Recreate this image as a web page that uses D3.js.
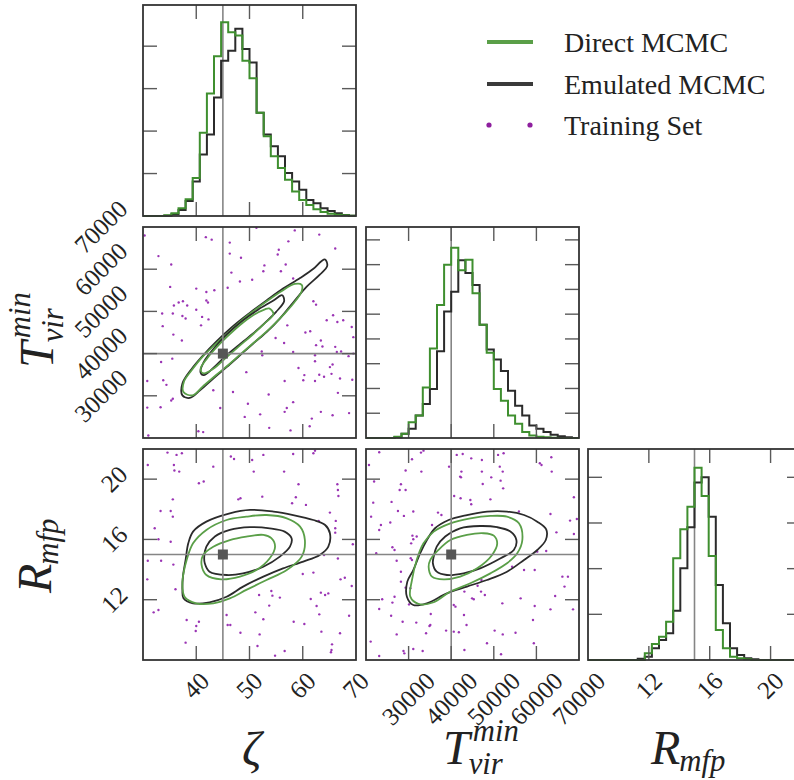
<!DOCTYPE html>
<html>
<head>
<meta charset="utf-8">
<script src="https://cdn.jsdelivr.net/npm/d3@7"></script>
<style>
body { margin: 0; background: #fff; }
</style>
</head>
<body>
<script>
var width = 794,
    height = 780;

// ================ data ================
var paramNames = ["zeta", "tvir", "rmfp"];
var truthValues = [45, 40000, 15];
var paramRanges = [[30, 70], [20000, 70000], [8, 22]];
var tickValues = [[40, 50, 60, 70], [30000, 40000, 50000, 60000, 70000], [12, 16, 20]];

// histogram counts, 30 equal bins across each range
var zetaDirect   = [0, 0, 0, 16, 63, 182, 395, 893, 1959, 2884, 3760, 4566, 4329, 4250, 3658, 3247, 2433, 1880, 1406, 1130, 853, 577, 379, 261, 158, 95, 55, 32, 16, 8];
var zetaEmulated = [0, 0, 0, 8, 40, 142, 356, 814, 1446, 1920, 2789, 3658, 3895, 4408, 3934, 3618, 2433, 1920, 1643, 1406, 1011, 814, 616, 379, 300, 182, 119, 63, 24, 8];
var tvirDirect   = [0, 0, 0, 0, 27, 87, 320, 453, 1020, 1807, 2687, 3500, 3840, 3387, 3600, 2920, 2287, 1720, 987, 753, 453, 287, 120, 53, 27, 13, 7, 0, 0, 0];
var tvirEmulated = [0, 0, 0, 0, 13, 87, 187, 453, 687, 987, 1753, 2553, 2953, 3587, 3333, 3087, 2287, 1787, 1587, 1353, 953, 653, 453, 253, 187, 120, 67, 33, 13, 0];
var rmfpDirect   = [0, 0, 0, 0, 0, 0, 0, 0, 146, 350, 511, 840, 2227, 2862, 3358, 4212, 3592, 2278, 657, 256, 73, 37, 15, 0, 0, 0, 0, 0, 0, 0];
var rmfpEmulated = [0, 0, 0, 0, 0, 0, 0, 29, 73, 256, 438, 584, 1080, 2008, 2905, 3884, 4000, 3139, 1643, 803, 256, 110, 37, 15, 0, 0, 0, 0, 0, 0];
var histMax = [4970, 4260, 4620];
var histTicks = [[1000, 2000, 3000, 4000], [500, 1000, 1500, 2000, 2500, 3000, 3500, 4000], [1000, 2000, 3000, 4000]];

// 1 and 2 sigma contours, [x, y] in data units
var ztEmuOuter = [[64.2,62300],[64.6,60800],[63.2,58700],[60.7,55800],[58.2,52100],[55.7,48300],[53.2,45100],[50.7,42400],[48.2,39600],[45.7,36800],[43.2,34100],[40.7,31300],[38.8,29500],[37.4,30100],[37.4,32900],[39.1,36300],[41.3,39600],[43.8,42900],[46.9,46500],[50.1,49700],[53.2,52600],[56.3,55400],[59.5,57900],[62.0,60100],[63.5,61900]];
var ztDirOuter = [[59.8,56300],[59.8,54800],[58.2,51800],[56.3,49100],[53.8,45900],[51.3,43100],[48.8,40400],[46.3,37600],[43.8,35000],[41.3,32300],[39.3,30100],[37.6,30900],[37.7,33400],[39.1,36000],[41.0,39000],[43.5,42100],[46.6,45700],[49.7,49100],[52.9,52100],[56.0,54800],[58.5,56500]];
var ztEmuInner = [[56.2,53800],[56.5,52400],[55.0,49900],[52.9,47300],[50.5,44600],[48.1,42100],[45.5,39400],[43.2,36600],[41.4,34900],[40.8,35600],[41.4,38000],[43.3,41200],[45.8,44600],[48.7,47800],[51.6,50400],[54.5,52600],[55.9,53800]];
var ztDirInner = [[53.7,50700],[54.5,49400],[52.7,47000],[50.4,44300],[47.9,41600],[45.4,38800],[43.2,36400],[41.4,35300],[40.8,36300],[42.0,38800],[44.5,42400],[47.4,45900],[50.2,48700],[52.9,50500]];

var zrEmuOuter = [[37.4,12.65],[37.6,12.09],[39.4,11.76],[42.5,11.83],[45.7,12.20],[48.8,12.87],[52.6,13.53],[56.3,14.08],[60.1,14.53],[63.2,14.97],[64.8,15.52],[65.1,16.41],[64.2,16.96],[62.0,17.29],[58.2,17.62],[54.5,17.85],[50.1,17.96],[46.3,17.73],[41.9,17.18],[39.4,16.52],[38.5,15.74],[38.0,14.64],[37.5,13.53]];
var zrDirOuter = [[37.4,13.09],[37.8,12.20],[40.0,11.76],[43.2,11.76],[46.3,12.09],[49.4,12.65],[53.2,13.31],[57.0,13.97],[59.8,14.86],[60.4,15.96],[59.5,16.85],[57.0,17.40],[53.2,17.62],[49.4,17.51],[45.7,17.29],[41.9,16.63],[39.4,15.74],[38.2,14.64],[37.6,13.75]];
var zrEmuInner = [[41.6,14.42],[42.5,13.86],[45.7,13.64],[48.8,13.75],[52.6,14.19],[55.7,14.86],[57.6,15.52],[57.9,16.08],[56.6,16.52],[53.8,16.74],[50.1,16.81],[46.3,16.63],[43.5,16.19],[41.9,15.52],[41.5,14.86]];
var zrDirInner = [[41.0,14.31],[41.9,13.64],[44.7,13.35],[48.2,13.53],[51.3,13.97],[53.8,14.75],[54.8,15.52],[54.1,16.08],[52.6,16.30],[49.4,16.19],[46.3,15.96],[43.2,15.52],[41.3,14.97]];

var trEmuOuter = [[29700,13.20],[29600,12.20],[31100,11.65],[34300,11.76],[39000,12.42],[43700,12.87],[48400,13.31],[53100,13.86],[57100,14.64],[60200,15.30],[62200,15.96],[62300,16.67],[60200,17.18],[57100,17.62],[53100,17.85],[48400,17.85],[43700,17.62],[39400,17.29],[36200,16.74],[34300,15.96],[32700,15.08],[31100,13.97]];
var trDirOuter = [[30400,12.20],[32300,11.72],[35900,11.83],[39800,12.54],[44500,13.09],[49200,13.75],[53100,14.42],[55500,15.08],[56700,15.96],[55900,17.07],[53100,17.51],[49200,17.56],[44500,17.40],[39800,17.07],[35900,16.52],[33500,15.74],[31900,14.64],[30800,13.31]];
var trEmuInner = [[35700,14.42],[36600,13.86],[39000,13.64],[42900,13.75],[46800,14.08],[51600,14.75],[54700,15.30],[55300,15.96],[53900,16.52],[50800,16.81],[46800,16.89],[42100,16.74],[38600,16.19],[36600,15.52],[35900,14.86]];
var trDirInner = [[34700,14.19],[35500,13.53],[38200,13.35],[42100,13.53],[46100,14.08],[49600,14.97],[50800,15.74],[50000,16.25],[47600,16.41],[43700,16.30],[39800,15.96],[37000,15.30],[35100,14.64]];

// training set, as seen in each projection
var trainZT = [[51.3,69800],[58.5,69200],[41.8,67600],[42.9,67000],[63.1,68200],[30.3,68000],[32.9,63100],[35.3,61100],[46.3,66300],[48.4,62700],[46.3,63700],[55.5,64600],[55.3,63500],[57.3,66600],[56.8,61100],[66.1,64900],[52.8,60900],[52.6,59500],[55.9,59500],[46.6,59200],[48.2,57100],[50.5,57500],[45.9,55600],[35.1,55800],[43.4,55000],[41.9,54600],[42.2,52100],[37.5,52400],[36.7,52100],[35.8,51400],[38.3,51400],[40.0,50400],[33.6,49500],[35.6,49500],[37.4,48900],[38.0,48300],[41.1,48700],[42.3,48100],[40.9,46700],[33.7,46500],[35.7,44500],[37.3,43100],[62.0,52400],[62.5,51600],[64.5,47900],[66.5,47500],[67.6,47900],[69.2,46300],[60.5,45000],[61.4,45300],[69.5,43900],[56.5,42500],[54.9,43700],[63.4,43100],[62.5,42000],[63.7,41700],[66.1,41600],[67.2,40500],[58.2,40400],[69.5,40000],[62.3,39600],[62.3,38200],[65.6,37400],[65.1,36800],[33.4,38000],[35.5,38800],[59.2,36600],[63.1,35000],[64.0,34500],[65.4,35200],[60.3,34900],[60.1,33700],[56.6,33500],[62.3,33500],[67.0,34100],[69.3,33800],[30.8,33500],[33.8,33700],[34.4,32600],[46.9,30900],[43.2,31300],[53.6,30300],[66.6,30700],[35.6,29300],[35.3,28900],[57.0,27100],[56.6,26200],[58.2,28500],[49.7,28100],[63.4,26200],[65.6,25400],[68.7,25900],[61.7,24600],[61.3,22800],[52.0,25600],[49.1,25000],[53.7,22400],[57.7,21800],[40.4,21600],[41.3,21400],[31.0,20600],[30.8,27200],[33.3,27300],[44.5,27100],[66.4,40400],[52.4,39600],[57.1,46700],[52.3,40500],[49.4,35600],[68.6,39400],[65.7,49100],[58.2,57800],[40.0,55400],[41.9,52600]];
var trainZR = [[34.6,21.76],[36.3,21.61],[37.3,21.72],[30.9,20.94],[35.8,20.94],[35.9,20.57],[36.8,20.50],[43.2,20.83],[46.5,21.50],[47.1,21.34],[50.5,21.27],[52.6,21.61],[58.2,21.67],[62.0,21.72],[62.3,21.89],[50.8,20.50],[56.5,20.50],[40.5,19.73],[41.4,19.84],[59.2,19.66],[66.5,19.66],[66.6,19.28],[66.7,18.88],[47.9,18.66],[48.3,18.73],[52.4,18.84],[58.7,18.80],[58.0,18.40],[60.6,18.29],[35.6,18.66],[33.3,17.89],[35.2,17.89],[35.6,17.51],[32.2,16.74],[32.9,16.01],[35.2,15.85],[65.1,17.78],[63.0,17.23],[66.2,17.23],[66.1,16.74],[66.1,16.45],[69.4,15.68],[30.9,14.59],[33.4,14.59],[35.7,14.33],[30.8,13.35],[36.1,12.69],[64.0,14.97],[66.6,14.73],[60.0,13.71],[62.0,13.80],[67.1,13.35],[67.9,13.46],[69.2,12.91],[54.1,12.58],[51.8,12.31],[54.3,12.27],[55.7,12.14],[63.4,12.47],[64.2,12.31],[64.8,12.42],[61.5,12.05],[62.6,11.58],[68.7,10.94],[63.1,11.03],[32.0,11.16],[32.9,11.32],[38.2,10.65],[40.5,10.54],[40.0,10.26],[39.9,9.92],[45.7,10.99],[45.9,10.32],[46.4,10.32],[48.3,9.81],[52.6,10.70],[51.1,11.16],[53.7,11.61],[58.3,10.54],[60.3,10.39],[63.5,9.88],[67.0,9.77],[38.0,9.15],[51.9,9.70],[51.5,8.93],[54.8,8.29],[56.6,8.60],[65.5,9.04],[65.4,8.66],[65.3,8.51]];
var trainTR = [[23100,21.78],[32900,21.76],[33500,21.89],[41300,21.61],[42700,21.67],[44700,21.38],[47200,21.27],[51000,21.61],[52300,21.72],[30800,21.32],[20700,20.94],[29300,20.57],[33000,20.50],[39500,20.83],[42400,20.50],[47200,20.50],[47400,19.68],[51400,20.83],[52100,20.50],[60800,21.05],[61200,20.94],[63500,21.45],[63600,20.50],[42100,20.17],[42300,20.12],[49400,20.12],[51600,19.90],[52200,19.39],[28200,19.66],[27900,19.28],[29300,19.28],[21900,19.84],[21700,18.44],[26000,18.49],[27500,17.89],[28900,17.56],[31100,17.85],[36900,17.78],[37700,17.62],[35500,16.96],[23500,16.96],[23100,16.63],[21200,17.51],[25700,17.12],[40700,18.88],[42200,18.73],[44500,18.62],[44700,18.33],[49200,18.66],[55900,17.85],[63300,17.69],[68800,18.80],[67900,17.25],[69500,17.36],[68800,16.36],[64700,16.47],[62300,15.23],[60200,15.19],[30900,16.25],[31900,16.19],[31100,16.01],[30600,15.74],[26200,15.48],[26700,15.30],[22400,15.08],[27200,14.59],[30800,14.64],[30500,14.75],[28200,13.86],[28200,13.20],[30400,12.76],[29300,12.80],[26700,12.20],[23800,12.03],[23100,11.38],[26200,11.81],[30100,11.69],[54300,14.19],[57100,13.97],[59600,13.97],[66100,13.53],[67400,13.53],[66600,12.87],[64400,12.25],[59600,11.58],[56300,12.09],[52000,11.76],[47100,13.31],[46200,12.93],[47000,12.54],[47900,12.31],[43100,12.54],[40600,11.65],[41000,11.54],[43000,10.99],[43600,10.32],[44900,12.09],[45300,12.03],[63300,11.36],[68600,11.36],[59200,10.65],[35200,11.05],[35100,10.32],[34900,10.26],[31800,10.48],[28600,10.54],[25900,10.94],[27200,9.70],[34100,9.77],[38800,9.95],[40600,9.88],[41800,9.84],[50200,9.95],[52100,9.70],[55100,9.81],[48400,9.11],[51700,8.38],[59400,9.11],[43100,8.66],[33300,8.60],[31100,8.73],[28800,8.60],[29000,8.44],[21100,9.22],[23100,8.27]];

var legendLabels = ["Direct MCMC", "Emulated MCMC", "Training Set"];

// ================ layout ================
var colX = [143, 366, 588],
    rowY = [5, 227, 449],
    pw = 213,
    ph = 211,
    tickLen = 14;

var serif = "'Liberation Serif', 'DejaVu Serif', serif";
var greenHist = "#3f8f2f",
    greenLine = "#5a9f48",
    darkLine = "#2b2b2b",
    purple = "#9a34b4";

var svg = d3.select("body")
    .append("svg")
    .attr("width", width)
    .attr("height", height)
    .style("background", "#fff");

function xScaleFor(col) {
    return d3.scaleLinear().domain(paramRanges[col]).range([colX[col], colX[col] + pw]);
}
function yScaleFor(row, dom) {
    return d3.scaleLinear().domain(dom || paramRanges[row]).range([rowY[row] + ph, rowY[row]]);
}

function inside(dom, v) {
    return v > dom[0] && v < dom[1];
}

//ticks pointing inward on all four sides
function drawTicks(g, xs, ys, xt, yt) {
    var x0 = xs.range()[0], x1 = xs.range()[1],
        y0 = ys.range()[1], y1 = ys.range()[0];
    xt.filter(function(v) { return inside(xs.domain(), v); }).forEach(function(v) {
        g.append("line").attr("x1", xs(v)).attr("x2", xs(v)).attr("y1", y0).attr("y2", y0 + tickLen);
        g.append("line").attr("x1", xs(v)).attr("x2", xs(v)).attr("y1", y1).attr("y2", y1 - tickLen);
    });
    yt.filter(function(v) { return inside(ys.domain(), v); }).forEach(function(v) {
        g.append("line").attr("x1", x0).attr("x2", x0 + tickLen).attr("y1", ys(v)).attr("y2", ys(v));
        g.append("line").attr("x1", x1).attr("x2", x1 - tickLen).attr("y1", ys(v)).attr("y2", ys(v));
    });
    g.selectAll("line").attr("stroke", "#5a5a5a").attr("stroke-width", 1.4);
}

function drawFrame(g, col, row) {
    g.append("rect")
        .attr("x", colX[col]).attr("y", rowY[row])
        .attr("width", pw).attr("height", ph)
        .attr("fill", "none")
        .attr("stroke", "#333")
        .attr("stroke-width", 1.8);
}

function truthLine(g, x1, y1, x2, y2) {
    g.append("line")
        .attr("x1", x1).attr("y1", y1).attr("x2", x2).attr("y2", y2)
        .attr("stroke", "#858585")
        .attr("stroke-width", 1.6);
}

// ================ histograms (diagonal) ================
var histData = [[zetaDirect, zetaEmulated], [tvirDirect, tvirEmulated], [rmfpDirect, rmfpEmulated]];

histData.forEach(function(pair, k) {
    var g = svg.append("g").attr("class", "hist-" + paramNames[k]);
    var xs = xScaleFor(k),
        ys = yScaleFor(k, [0, histMax[k]]);
    var lo = paramRanges[k][0],
        bw = (paramRanges[k][1] - lo) / pair[0].length;

    var step = d3.line()
        .x(function(d) { return xs(d[0]); })
        .y(function(d) { return ys(d[1]); })
        .curve(d3.curveStepAfter);

    truthLine(g, xs(truthValues[k]), rowY[k], xs(truthValues[k]), rowY[k] + ph);

    // emulated first, direct on top
    [[pair[1], darkLine], [pair[0], greenHist]].forEach(function(h) {
        var pts = h[0].map(function(c, i) { return [lo + i * bw, c]; });
        pts.push([lo + h[0].length * bw, h[0][h[0].length - 1]]);
        g.append("path")
            .attr("d", step(pts))
            .attr("fill", "none")
            .attr("stroke", h[1])
            .attr("stroke-width", 2);
    });

    drawTicks(g.append("g"), xs, ys, tickValues[k], histTicks[k]);
    drawFrame(g, k, k);
});

// ================ 2D panels ================
var panels = [
    {col: 0, row: 1, dots: trainZT, contours: [[ztEmuOuter, darkLine], [ztDirOuter, greenLine], [ztEmuInner, darkLine], [ztDirInner, greenLine]]},
    {col: 0, row: 2, dots: trainZR, contours: [[zrEmuOuter, darkLine], [zrDirOuter, greenLine], [zrEmuInner, darkLine], [zrDirInner, greenLine]]},
    {col: 1, row: 2, dots: trainTR, contours: [[trEmuOuter, darkLine], [trDirOuter, greenLine], [trEmuInner, darkLine], [trDirInner, greenLine]]}
];

panels.forEach(function(p) {
    var g = svg.append("g");
    var xs = xScaleFor(p.col),
        ys = yScaleFor(p.row);

    g.selectAll("circle.train")
        .data(p.dots)
        .enter().append("circle")
        .attr("class", "train")
        .attr("cx", function(d) { return xs(d[0]); })
        .attr("cy", function(d) { return ys(d[1]); })
        .attr("r", 1.2)
        .attr("fill", purple);

    var ring = d3.line()
        .x(function(d) { return xs(d[0]); })
        .y(function(d) { return ys(d[1]); })
        .curve(d3.curveCatmullRomClosed.alpha(0.5));

    p.contours.forEach(function(c) {
        g.append("path")
            .attr("d", ring(c[0]))
            .attr("fill", "none")
            .attr("stroke", c[1])
            .attr("stroke-width", 1.8);
    });

    var tx = xs(truthValues[p.col]),
        ty = ys(truthValues[p.row]);
    truthLine(g, tx, rowY[p.row], tx, rowY[p.row] + ph);
    truthLine(g, colX[p.col], ty, colX[p.col] + pw, ty);

    g.append("rect")
        .attr("x", tx - 5).attr("y", ty - 5)
        .attr("width", 10).attr("height", 10)
        .attr("fill", "#565656");

    drawTicks(g.append("g"), xs, ys, tickValues[p.col], tickValues[p.row]);
    drawFrame(g, p.col, p.row);
});

// ================ tick labels ================
var tickFont = 25;
var g_labels = svg.append("g").attr("font-family", serif).attr("font-size", tickFont).attr("fill", "#222");

function rotatedLabel(text, placer) {
    var t = g_labels.append("text")
        .attr("text-anchor", "middle")
        .attr("dy", "0.33em")
        .text(text);
    var ext = (t.node().getComputedTextLength() + 0.66 * tickFont) / Math.SQRT2;
    var pos = placer(ext);
    t.attr("transform", "translate(" + pos[0] + "," + pos[1] + ") rotate(-45)");
}

//bottom row
[0, 1, 2].forEach(function(col) {
    var xs = xScaleFor(col),
        base = rowY[2] + ph;
    tickValues[col].forEach(function(v) {
        rotatedLabel(v, function(ext) { return [xs(v), base + 11 + ext / 2]; });
    });
});

//left column
[1, 2].forEach(function(row) {
    var ys = yScaleFor(row);
    tickValues[row].forEach(function(v) {
        rotatedLabel(v, function(ext) { return [colX[0] - 14 - ext / 2, ys(v)]; });
    });
});

// ================ axis titles ================
function mathLabel(x, y, rot, base, sup, sub, size, subDy) {
    var g = svg.append("g")
        .attr("transform", "translate(" + x + "," + y + ") rotate(" + rot + ")")
        .attr("font-family", serif)
        .attr("font-style", "italic")
        .attr("fill", "#222");
    var t = g.append("text").attr("font-size", size).text(base);
    var w = t.node().getComputedTextLength();
    if (sup) {
        g.append("text").attr("x", w + 3).attr("y", -size * 0.47)
            .attr("font-size", size * 0.64).text(sup);
    }
    if (sub) {
        g.append("text").attr("x", w - 1).attr("y", size * subDy)
            .attr("font-size", size * 0.64).text(sub);
    }
}

mathLabel(242, 765, 0, "\u03b6", null, null, 48, 0);
mathLabel(443, 764, 0, "T", "min", "vir", 48, 0.2);
mathLabel(651, 764, 0, "R", null, "mfp", 48, 0.14);
mathLabel(53, 368, -90, "T", "min", "vir", 48, 0.2);
mathLabel(51, 593, -90, "R", null, "mfp", 48, 0.14);

// ================ legend ================
var g_legend = svg.append("g").attr("font-family", serif).attr("font-size", 28).attr("fill", "#222");
var legendY = [42, 84, 125];

g_legend.append("line").attr("x1", 487).attr("x2", 533).attr("y1", legendY[0]).attr("y2", legendY[0])
    .attr("stroke", greenLine).attr("stroke-width", 4);
g_legend.append("line").attr("x1", 487).attr("x2", 533).attr("y1", legendY[1]).attr("y2", legendY[1])
    .attr("stroke", "#3a3a3a").attr("stroke-width", 4);
[489, 530].forEach(function(x) {
    g_legend.append("circle").attr("cx", x).attr("cy", legendY[2]).attr("r", 2.6).attr("fill", "#8e1f9e");
});

legendLabels.forEach(function(s, i) {
    g_legend.append("text").attr("x", 564).attr("y", legendY[i] + 10).text(s);
});
</script>
</body>
</html>
